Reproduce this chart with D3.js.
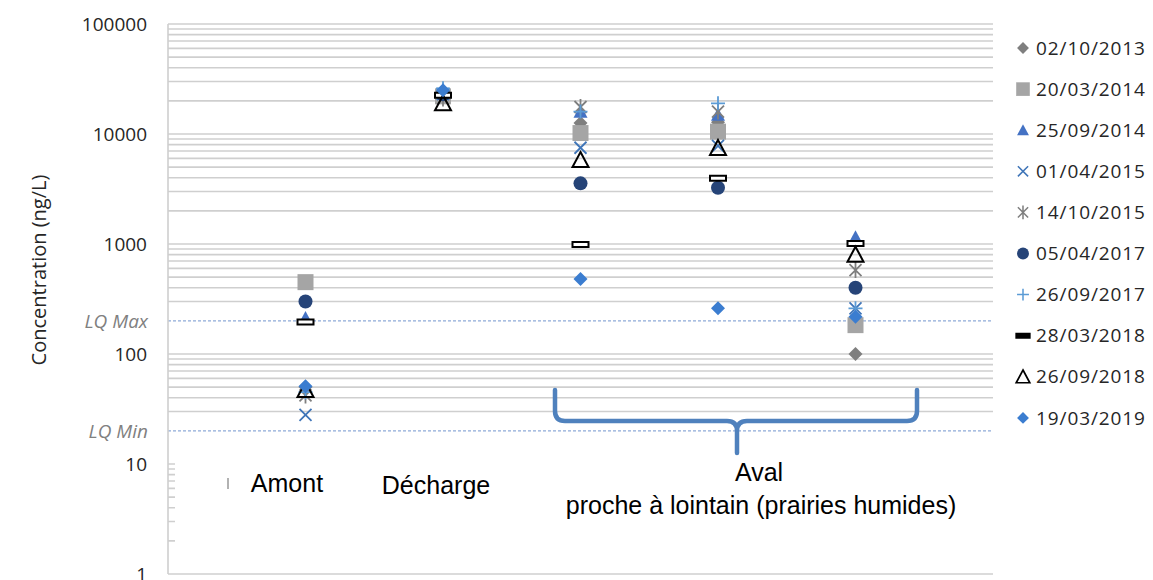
<!DOCTYPE html>
<html>
<head>
<meta charset="utf-8">
<script src="https://cdn.jsdelivr.net/npm/d3@7"></script>
<style>
  body { margin: 0; background: #fff; }
  svg { display: block; }
</style>
</head>
<body>
<svg id="chart" width="1153" height="580"></svg>
<script>
// sampling sites (x = 1..5 on a 0..6 axis)
var sites = ["Amont", "Décharge", "Aval 1", "Aval 2", "Aval 3"];
var siteX = [1, 2, 3, 4, 5];

var dates = ["02/10/2013", "20/03/2014", "25/09/2014", "01/04/2015", "14/10/2015",
             "05/04/2017", "26/09/2017", "28/03/2018", "26/09/2018", "19/03/2019"];

// concentrations (ng/L), one value per site
var v20131002 = [50, 22000, 12600, 12800, 100];
var v20140320 = [450, 22000, 10200, 10500, 183];
var v20140925 = [212, 24000, 15900, 15000, 1150];
var v20150401 = [28, 23000, 7500, 7800, 260];
var v20151014 = [42, 21000, 17600, 16000, 580];
var v20170405 = [300, 23000, 3560, 3250, 400];
var v20170926 = [45, 26000, 16000, 19000, 260];
var v20180328 = [195, 22500, 990, 3960, 1010];
var v20180926 = [47, 19000, 5800, 7470, 800];
var v20190319 = [51, 25000, 480, 260, 218];

var seriesValues = [v20131002, v20140320, v20140925, v20150401, v20151014,
                    v20170405, v20170926, v20180328, v20180926, v20190319];

var yTicks = [1, 10, 100, 1000, 10000, 100000];
var lqMax = 200, lqMin = 20;

var markers = [
  { type: "diamond", color: "#7f7f7f" },
  { type: "square", color: "#a5a5a5" },
  { type: "triangle", color: "#4472c4" },
  { type: "x", color: "#3f75b8" },
  { type: "star", color: "#7f7f7f" },
  { type: "circle", color: "#264478" },
  { type: "plus", color: "#5b9bd5" },
  { type: "dash", color: "#000" },
  { type: "triangleOpen", color: "#000" },
  { type: "diamond2", color: "#3b7dd0" }
];

var svg = d3.select("#chart");
var plotLeft = 168, plotRight = 993, plotTop = 24, plotBottom = 574;

var x = d3.scaleLinear().domain([0, 6]).range([plotLeft, plotRight]);
var y = d3.scaleLog().domain([1, 100000]).range([plotBottom, plotTop]);

// gridlines (major + minor)
var grid = [];
for (var d = 1; d < 100000; d *= 10) {
  for (var k = 1; k < 10; k++) grid.push(d * k);
}
grid.push(100000);
grid = grid.filter(function (v) { return v !== lqMax && v !== lqMin; });

svg.append("g").attr("class", "grid")
  .selectAll("line").data(grid).enter().append("line")
  .attr("x1", plotLeft).attr("x2", plotRight)
  .attr("y1", function (v) { return y(v); })
  .attr("y2", function (v) { return y(v); })
  .attr("stroke", "#cfcfcf").attr("stroke-width", 1.6);

// LQ lines
svg.append("g").selectAll("line").data([lqMax, lqMin]).enter().append("line")
  .attr("x1", plotLeft).attr("x2", plotRight)
  .attr("y1", function (v) { return y(v); })
  .attr("y2", function (v) { return y(v); })
  .attr("stroke", "#8eaad8").attr("stroke-width", 1.2)
  .attr("stroke-dasharray", "3,2");

// left axis line
svg.append("line").attr("x1", plotLeft).attr("x2", plotLeft)
  .attr("y1", plotTop).attr("y2", plotBottom)
  .attr("stroke", "#cfcfcf").attr("stroke-width", 1.6);

// white text box covering the lower part of the plot
svg.append("rect").attr("x", 175).attr("y", 445)
  .attr("width", plotRight - 175 + 2).attr("height", plotBottom - 445 - 1)
  .attr("fill", "#fff");

// y tick labels
var yAxis = d3.axisLeft(y).tickValues(yTicks).tickFormat(d3.format("d")).tickSize(0).tickPadding(21);
var ya = svg.append("g").attr("transform", "translate(" + plotLeft + ",0)").call(yAxis);
ya.select(".domain").remove();
ya.selectAll("text")
  .attr("font-family", "Open Sans, sans-serif").attr("font-size", 19)
  .attr("fill", "#262626");

// LQ labels
svg.append("g").selectAll("text").data([["LQ Max", lqMax], ["LQ Min", lqMin]]).enter()
  .append("text")
  .attr("x", 148).attr("y", function (d) { return y(d[1]); })
  .attr("dy", "0.35em").attr("text-anchor", "end")
  .attr("font-family", "Open Sans, sans-serif").attr("font-size", 19)
  .attr("font-style", "italic").attr("fill", "#808080")
  .text(function (d) { return d[0]; });

// y axis title
svg.append("text")
  .attr("transform", "translate(46," + 270 + ") rotate(-90)")
  .attr("text-anchor", "middle")
  .attr("font-family", "Open Sans, sans-serif").attr("font-size", 20)
  .attr("fill", "#262626")
  .text("Concentration (ng/L)");

function markerPath(type) {
  var p = d3.path();
  switch (type) {
    case "diamond":
    case "diamond2":
      p.moveTo(0, -7); p.lineTo(7, 0); p.lineTo(0, 7); p.lineTo(-7, 0); p.closePath(); break;
    case "square":
      p.rect(-8, -8, 16, 16); break;
    case "triangle":
      p.moveTo(0, -7); p.lineTo(7, 6); p.lineTo(-7, 6); p.closePath(); break;
    case "triangleOpen":
      p.moveTo(0, -8); p.lineTo(8, 7); p.lineTo(-8, 7); p.closePath(); break;
    case "x":
      p.moveTo(-6, -6); p.lineTo(6, 6); p.moveTo(6, -6); p.lineTo(-6, 6); break;
    case "star":
      p.moveTo(-6, -6); p.lineTo(6, 6); p.moveTo(6, -6); p.lineTo(-6, 6);
      p.moveTo(0, -8); p.lineTo(0, 8); break;
    case "plus":
      p.moveTo(-7, 0); p.lineTo(7, 0); p.moveTo(0, -7); p.lineTo(0, 7); break;
    case "circle":
      p.arc(0, 0, 7, 0, 2 * Math.PI); break;
    case "dash":
      p.rect(-8, -2.5, 16, 5); break;
  }
  return p.toString();
}

function styleMarker(sel, m, inLegend) {
  var t = m.type;
  if (t === "x" || t === "star" || t === "plus") {
    sel.attr("fill", "none").attr("stroke", m.color).attr("stroke-width", 1.8);
  } else if (t === "triangleOpen") {
    sel.attr("fill", "none").attr("stroke", m.color).attr("stroke-width", 2);
  } else if (t === "dash") {
    sel.attr("fill", inLegend ? "#000" : "#fff").attr("stroke", "#000").attr("stroke-width", 2);
  } else {
    sel.attr("fill", m.color).attr("stroke", "none");
  }
}

// points
var pts = svg.append("g").attr("class", "points");
seriesValues.forEach(function (vals, i) {
  var g = pts.append("g");
  var sel = g.selectAll("path").data(vals).enter().append("path")
    .attr("transform", function (v, j) { return "translate(" + x(siteX[j]) + "," + y(v) + ")"; })
    .attr("d", markerPath(markers[i].type));
  styleMarker(sel, markers[i], false);
});

// brace over Aval sites
var bl = 555, br = 917, bt = 390, bb = 421, tipX = 737, tipY = 453;
var brace = d3.path();
brace.moveTo(bl, bt);
brace.lineTo(bl, bb - 10);
brace.quadraticCurveTo(bl, bb, bl + 10, bb);
brace.lineTo(tipX - 10, bb);
brace.quadraticCurveTo(tipX, bb, tipX, bb + 10);
brace.lineTo(tipX, tipY);
brace.moveTo(tipX, bb + 10);
brace.quadraticCurveTo(tipX, bb, tipX + 10, bb);
brace.lineTo(br - 10, bb);
brace.quadraticCurveTo(br, bb, br, bb - 10);
brace.lineTo(br, bt);
svg.append("path").attr("d", brace.toString())
  .attr("fill", "none").attr("stroke", "#4f81bd").attr("stroke-width", 4.5)
  .attr("stroke-linecap", "round");

// site labels
var labels = [
  { t: "Amont", x: 287, y: 492 },
  { t: "Décharge", x: 436, y: 494 },
  { t: "Aval", x: 759, y: 481 },
  { t: "proche à lointain (prairies humides)", x: 761, y: 514 }
];
svg.append("g").selectAll("text").data(labels).enter().append("text")
  .attr("x", function (d) { return d.x; }).attr("y", function (d) { return d.y; })
  .attr("text-anchor", "middle")
  .attr("font-family", "Liberation Sans, Arial, sans-serif").attr("font-size", 25)
  .attr("fill", "#000")
  .text(function (d) { return d.t; });
svg.append("line").attr("x1", 228).attr("x2", 228).attr("y1", 478).attr("y2", 489)
  .attr("stroke", "#999").attr("stroke-width", 1.5);

// legend
var lg = svg.append("g").attr("class", "legend");
dates.forEach(function (dt, i) {
  var ly = 48 + i * 41.1;
  var mk = lg.append("path")
    .attr("transform", "translate(1023," + ly + ") scale(0.85)")
    .attr("d", markerPath(markers[i].type));
  styleMarker(mk, markers[i], true);
  lg.append("text").attr("x", 1036).attr("y", ly).attr("dy", "0.35em")
    .attr("font-family", "Open Sans, sans-serif").attr("font-size", 19)
    .attr("letter-spacing", 0.9)
    .attr("fill", "#262626").text(dt);
});
</script>
</body>
</html>
